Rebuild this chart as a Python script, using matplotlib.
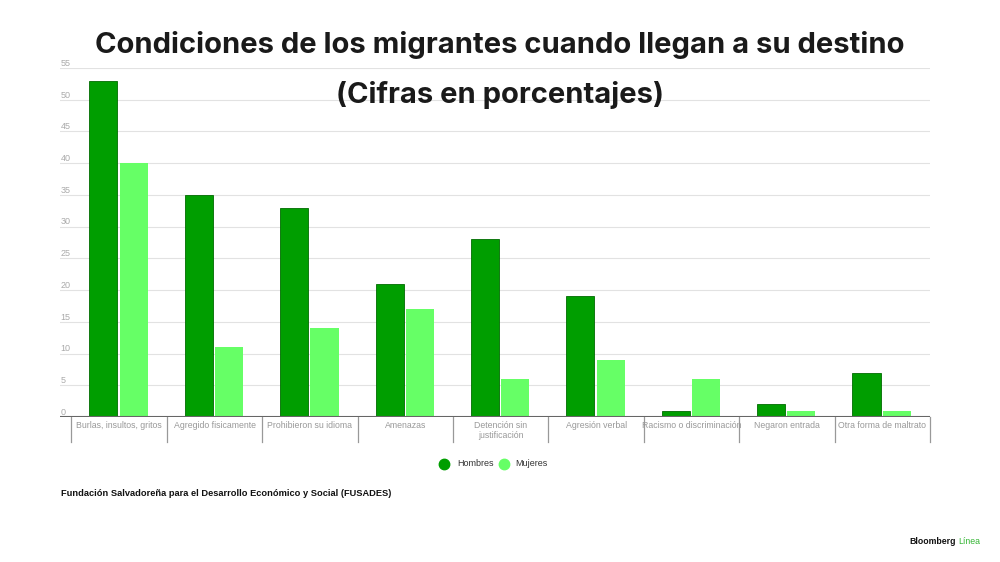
import numpy as np
import matplotlib.pyplot as plt
from matplotlib.lines import Line2D

plt.rcParams['font.family'] = ['Liberation Sans', 'DejaVu Sans']

# datos
categorias = ['Burlas, insultos, gritos', 'Agregido fisicamente', 'Prohibieron su idioma',
              'Amenazas', 'Detención sin\njustificación', 'Agresión verbal',
              'Racismo o discriminación', 'Negaron entrada', 'Otra forma de maltrato']
hombres = [53, 35, 33, 21, 28, 19, 1, 2, 7]
mujeres = [40, 11, 14, 17, 6, 9, 6, 1, 1]
yticks = [0, 5, 10, 15, 20, 25, 30, 35, 40, 45, 50, 55]

c_h = '#009e00'
c_m = '#66ff66'

fig = plt.figure(figsize=(10, 5.62), dpi=100)
ax = fig.add_axes([0.06, 1 - 417 / 562, 0.87, (417 - 68) / 562])

x = np.arange(len(categorias))
w = 0.295
ax.bar(x - 0.165, hombres, w, color=c_h, edgecolor='#006b00', linewidth=0.6, zorder=3)
ax.bar(x + 0.152, mujeres, w, color=c_m, linewidth=0, zorder=3)

ax.set_xlim(-0.62, 8.5)
ax.set_ylim(0, 55)

# rejilla
for v in yticks[1:]:
    ax.axhline(v, color='#e2e2e2', linewidth=0.8, zorder=1)
for v in yticks:
    ax.text(-0.615, v + 0.35, str(v), color='#aaaaaa', fontsize=6.5, ha='left', va='baseline')
ax.axhline(0, color='#666666', linewidth=1.5, zorder=4)

ax.set_xticks([])
ax.set_yticks([])
for s in ax.spines.values():
    s.set_visible(False)

# separadores y etiquetas
for i in range(len(categorias) + 1):
    ax.plot([i - 0.5, i - 0.5], [0, -4], color='#999999', linewidth=0.9, clip_on=False)
for i, c in enumerate(categorias):
    ax.text(i, -0.7, c, ha='center', va='top', fontsize=6.3, color='#999999',
            linespacing=1.05)

# titulo
fig.text(0.5, 1 - 45 / 562, 'Condiciones de los migrantes cuando llegan a su destino',
         ha='center', va='center', fontsize=21, fontweight='bold', color='#1a1a1a',
         family='Inter')
fig.text(0.5, 1 - 95 / 562, '(Cifras en porcentajes)',
         ha='center', va='center', fontsize=21, fontweight='bold', color='#1a1a1a',
         family='Inter')

# leyenda
ly = 1 - 464 / 562
fig.add_artist(Line2D([444 / 1000], [ly], marker='o', markersize=7.5, color=c_h,
                      linestyle='none', transform=fig.transFigure))
fig.text(457 / 1000, ly, 'Hombres', fontsize=6.5, va='center', color='#333333')
fig.add_artist(Line2D([504 / 1000], [ly], marker='o', markersize=7.5, color=c_m,
                      linestyle='none', transform=fig.transFigure))
fig.text(515 / 1000, ly, 'Mujeres', fontsize=6.5, va='center', color='#333333')

# fuente
fig.text(61 / 1000, 1 - 493 / 562,
         'Fundación Salvadoreña para el Desarrollo Económico y Social (FUSADES)',
         fontsize=6.7, fontweight='bold', va='center', color='#111111')
fig.text(956 / 1000, 1 - 541 / 562, 'Bloomberg', fontsize=6.3, ha='right', va='center',
         color='#111111', fontweight='bold')
fig.text(958 / 1000, 1 - 541 / 562, 'Línea', fontsize=6.3, ha='left', va='center',
         color='#33b533')

fig.savefig('out.png', dpi=100)
